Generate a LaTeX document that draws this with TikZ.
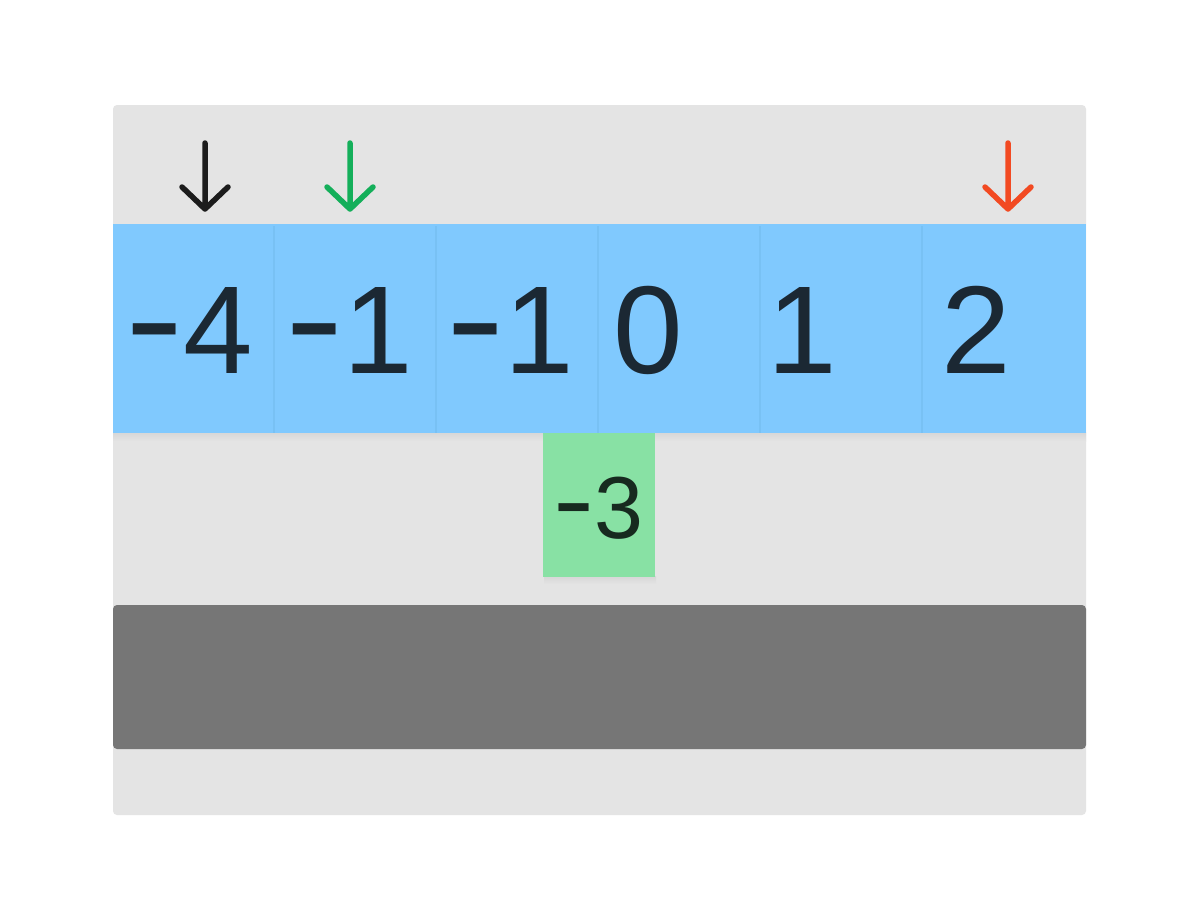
\documentclass[tikz,border=0pt]{standalone}
\usepackage{fontspec}
\usepackage{graphicx}
\setmainfont{Liberation Sans}
\definecolor{panel}{HTML}{E4E4E4}
\definecolor{cellblue}{HTML}{80C9FE}
\definecolor{cellline}{HTML}{78C1F4}
\definecolor{cellgreen}{HTML}{88E1A4}
\definecolor{band}{HTML}{767676}
\definecolor{ink}{HTML}{1B2833}
\definecolor{inkgreen}{HTML}{172A1F}
\definecolor{shade}{HTML}{D6D6D6}
\definecolor{arrblack}{HTML}{1C1C1C}
\definecolor{arrgreen}{HTML}{14AF5A}
\definecolor{arrred}{HTML}{F24A22}
\newcommand{\mn}{\raisebox{6pt}{\scalebox{1.4}[1.15]{-}}}
\newcommand{\mng}{\raisebox{4pt}{\scalebox{1.4}[1.15]{-}}}
\tikzset{
  bluecell/.style={fill=cellblue},
  numtxt/.style={anchor=base west, inner sep=0pt, text=ink, font=\fontsize{125}{125}\selectfont},
  gtxt/.style={anchor=base west, inner sep=0pt, text=inkgreen, font=\fontsize{88}{88}\selectfont},
  ptr/.style={line width=5.5pt, line cap=round, line join=round},
  shadowbar/.style={top color=shade, bottom color=panel},
}
\begin{document}
\begin{tikzpicture}[x=1pt,y=-1pt]
\useasboundingbox (0,0) rectangle (1200,921);
\fill[white] (0,0) rectangle (1200,921);
% panel
\fill[panel, rounded corners=4pt] (113,105) rectangle (1086,815);
% shadows
\shade[shadowbar] (113,432) rectangle (1086,441);
\shade[shadowbar] (544,576) rectangle (656,584);
% blue row
\fill[bluecell] (113,224) rectangle (1086,433);
\foreach \x in {274,436,598,760,922}
  \draw[cellline, line width=2pt] (\x,226) -- (\x,433);
% green cell
\fill[cellgreen] (543,433) rectangle (655,577);
% dark band
\fill[band, rounded corners=4pt] (113,605) rectangle (1086,749);
% numbers
\node[numtxt] (n1) at (125,373) {\mn4};
\node[numtxt] (n2) at (285,373) {\mn1};
\node[numtxt] (n3) at (446,373) {\mn1};
\node[numtxt] (n4) at (613,373) {0};
\node[numtxt] (n5) at (767,373) {1};
\node[numtxt] (n6) at (941,373) {2};
\node[gtxt] (g1) at (553,538) {\mng3};
% pointers
\coordinate (a1s) at (205,143); \coordinate (a1t) at (205,209);
\coordinate (a2s) at (350,143); \coordinate (a2t) at (350,209);
\coordinate (a3s) at (1008,143); \coordinate (a3t) at (1008,209);
\draw[ptr, arrblack] (a1s) -- (a1t) (182,187) -- (a1t) -- (228,187);
\draw[ptr, arrgreen] (a2s) -- (a2t) (327,187) -- (a2t) -- (373,187);
\draw[ptr, arrred] (a3s) -- (a3t) (985,187) -- (a3t) -- (1031,187);
\end{tikzpicture}
\end{document}
